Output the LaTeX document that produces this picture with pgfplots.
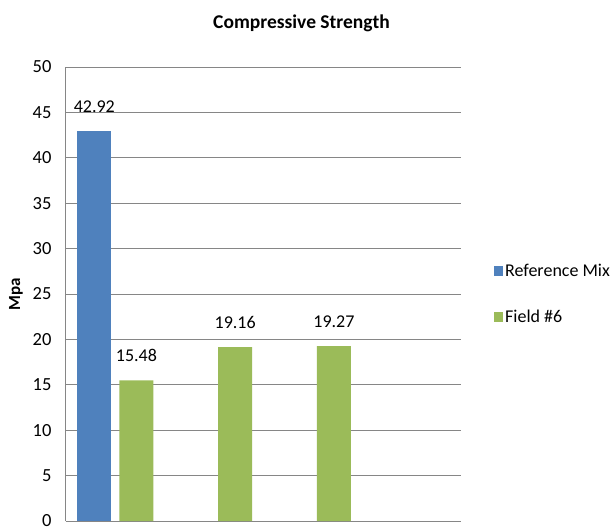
\documentclass[border=0pt]{standalone}
\usepackage{pgfplots}
\pgfplotsset{compat=1.18}
\usepackage{fontspec}
\setmainfont{Carlito}
\definecolor{refblue}{HTML}{4F81BD}
\definecolor{fieldgreen}{HTML}{9BBB59}
\definecolor{gridgray}{HTML}{868686}
\begin{document}
\begin{tikzpicture}
\useasboundingbox (-66pt,-10pt) rectangle (546pt,521pt);
\begin{axis}[
  at={(0pt,0pt)}, anchor=south west,
  scale only axis,
  width=395pt, height=454pt,
  xmin=0, xmax=4, ymin=0, ymax=50,
  ytick={0,5,...,50},
  xtick=\empty,
  axis x line*=bottom, axis y line*=left,
  axis line style={gridgray, line width=1pt, -},
  ymajorgrids,
  grid style={gridgray, line width=1pt},
  major tick length=0pt,
  /pgf/number format/assume math mode=true,
  tick label style={font=\fontsize{18.5}{21}\selectfont},
  yticklabel style={xshift=-11pt},
  ylabel={\textbf{Mpa}},
  ylabel style={font=\fontsize{17}{20}\selectfont, at={(-0.127,0.5)}, anchor=center},
  title={\textbf{Compressive Strength}},
  title style={font=\fontsize{19.5}{22}\selectfont, at={(0.5,1)}, yshift=26pt, xshift=38pt},
  ybar, bar shift=0pt, bar width=0.344,
  nodes near coords,
  every node near coord/.append style={font=\fontsize{18}{21}\selectfont, yshift=15pt, /pgf/number format/fixed, /pgf/number format/precision=2, /pgf/number format/fixed zerofill},
  legend style={at={(1.076,0.5)}, anchor=west, draw=none, fill=none,
     font=\fontsize{18}{21}\selectfont, row sep=28pt,
     legend cell align=left},
  legend image code/.code={\fill[#1] (0pt,-5pt) rectangle (9pt,5pt);},
]
\addplot[fill=refblue, draw=none] coordinates {(0.287,42.92)};
\addlegendentry{Reference Mix}
\addplot[fill=fieldgreen, draw=none] coordinates {(0.713,15.48) (1.713,19.16) (2.713,19.27)};
\addlegendentry{Field \#6}
\end{axis}
\end{tikzpicture}
\end{document}
